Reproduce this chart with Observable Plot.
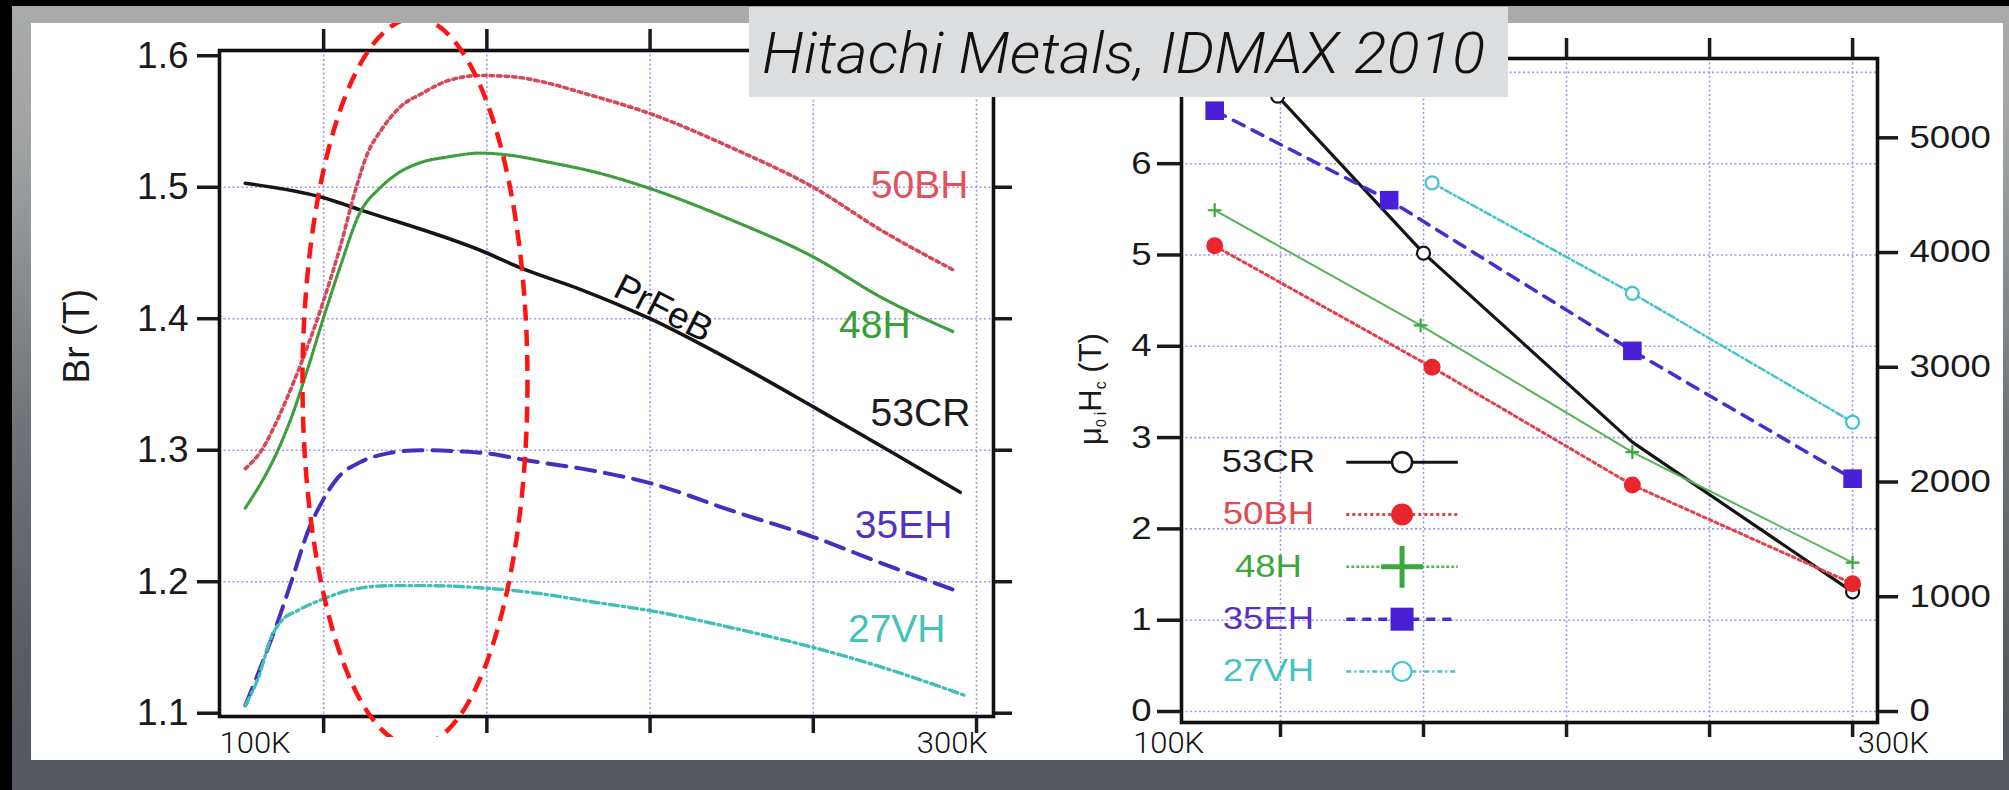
<!DOCTYPE html>
<html>
<head>
<meta charset="utf-8">
<script src="https://cdn.jsdelivr.net/npm/d3@7"></script>
<script src="https://cdn.jsdelivr.net/npm/@observablehq/plot@0.6"></script>
<style>
  html, body { margin:0; padding:0; width:2009px; height:790px; overflow:hidden; background:#000; }
  #frame { position:absolute; left:12px; top:6px; width:1997px; height:784px;
    background: linear-gradient(to bottom, #a9abaa 0px, #a3a5a5 120px, #707478 420px, #595d62 650px, #54585e 754px, #54585e 784px); }
  #panel { position:absolute; left:31px; top:23px; width:1972px; height:737px; background:#fff; overflow:hidden; }
  #panel svg { position:absolute; max-width:none; }
  #title { position:absolute; left:749px; top:7px; width:759px; height:90px; background:#dcdddf; }
  #title svg { position:absolute; left:0; top:0; }
</style>
</head>
<body>
<div id="frame"></div>
<div id="panel"></div>
<div id="title"><svg width="759" height="90"><text id="titleText" x="13" y="66" font-family="Roboto, 'Open Sans', 'Liberation Sans', sans-serif" font-size="57" font-style="italic" font-weight="300" fill="#111">Hitachi Metals, IDMAX 2010</text></svg></div>
<script>
// ---------------- data ----------------
const series = ["53CR", "50BH", "48H", "35EH", "27VH"];
const tempGridK = [100, 150, 200, 250, 300];
const brTicks = [1.1, 1.2, 1.3, 1.4, 1.5, 1.6];
const hcTicksT = [0, 1, 2, 3, 4, 5, 6, 7];
const hcTickLabels = ["0", "1", "2", "3", "4", "5", "6", ""];
const hcTicksKAm = [0, 1000, 2000, 3000, 4000, 5000];
const KAM_PER_T = 795.7747;
const endLabels = ["100K", "300K"];

// Left chart: Br (T) vs temperature (K)
const br53CR = [[76,1.503],[100,1.492],[111,1.483],[150,1.450],[160,1.439],[179,1.422],[200,1.400],[225,1.368],[250,1.333],[273,1.300],[295,1.268]];
const br50BH = [[76,1.286],[81,1.300],[86,1.324],[91,1.353],[100,1.414],[105,1.454],[110,1.500],[113.5,1.526],[117.5,1.543],[123,1.560],[130.6,1.572],[138,1.581],[148,1.585],[158,1.584],[169,1.579],[179,1.572],[200,1.556],[225,1.530],[250,1.500],[271,1.467],[293,1.437]];
const br48H  = [[76,1.256],[86,1.300],[90,1.324],[95,1.361],[100,1.401],[105,1.439],[111,1.480],[117.5,1.500],[123,1.511],[130,1.519],[138,1.523],[148,1.526],[158,1.524],[169,1.519],[184,1.511],[200,1.499],[225,1.475],[250,1.447],[271,1.416],[293,1.390]];
const br35EH = [[76,1.106],[80.7,1.135],[86,1.170],[90.5,1.203],[95,1.237],[100,1.263],[104.3,1.279],[111.3,1.291],[119.6,1.2976],[129.7,1.300],[142.9,1.299],[150,1.2976],[163,1.292],[179,1.286],[200,1.275],[225,1.254],[250,1.234],[271,1.214],[295,1.192]];
const br27VH = [[76,1.106],[80,1.127],[84,1.158],[87,1.170],[92,1.178],[100,1.187],[107,1.193],[120,1.197],[133,1.197],[150,1.195],[163,1.192],[184,1.184],[200,1.178],[225,1.165],[250,1.150],[271,1.135],[297,1.113]];

// Right chart: mu0 iHc (T) vs temperature (K)
const hc53CR = [[99,6.74],[150,5.02],[223,2.95],[300,1.31]];
const hc50BH = [[77,5.10],[153,3.77],[223,2.48],[300,1.40]];
const hc48H  = [[77,5.49],[149,4.23],[223,2.84],[300,1.63]];
const hc35EH = [[77,6.58],[138,5.60],[223,3.95],[300,2.55]];
const hc27VH = [[153,5.79],[223,4.58],[300,3.17]];
// points whose marker is not visible in the picture (hidden under another marker)
const hiddenMarkers = {"53CR": [2]};

const brBySeries = {"53CR": br53CR, "50BH": br50BH, "48H": br48H, "35EH": br35EH, "27VH": br27VH};
const hcBySeries = {"53CR": hc53CR, "50BH": hc50BH, "48H": hc48H, "35EH": hc35EH, "27VH": hc27VH};

// ---------------- layout / styles ----------------
const FONT = "'Liberation Sans', Arial, Helvetica, sans-serif";
const LIGHT = "Roboto, 'Open Sans', Lato, sans-serif";
const gridOpts = {stroke: "#9f97ef", strokeOpacity: 1, strokeWidth: 1.6, strokeDasharray: "2,2.5"};

const styleL = {
  "53CR": {stroke:"#151515", sw:3.6, dash:null,        label:"#1c1c1c"},
  "50BH": {stroke:"#d4485a", sw:3.6, dash:"3.5,4",     label:"#e0535b"},
  "48H":  {stroke:"#3e9e3e", sw:3.2, dash:"2.2,2",     label:"#36a036"},
  "35EH": {stroke:"#4a2dbf", sw:4.0, dash:"19,10",     label:"#5333bd"},
  "27VH": {stroke:"#3fbfb7", sw:3.4, dash:"9,4,2.5,4", label:"#43c3b8"}
};
// label anchors (end of text, baseline) in data units
const brLabelPos = {"50BH":[297.5,1.4922], "48H":[279.8,1.3857], "53CR":[298.1,1.3188], "35EH":[292.6,1.2329], "27VH":[290.5,1.1538]};
const prfebPos = [204.1, 1.4078];
const endLabelPosL = [[79.0, 1.0694], [292.6, 1.0694]];
const ellipseC = [128.14, 1.3515], ellipseR = [34.46, 0.2768], ellipseClipBr = 1.0816;

const styleR = {
  "53CR": {stroke:"#151515", sw:3.2, dash:null,      mark:"#151515", kind:"open",   r:6.5,  msw:2.2, lr:10,   lmsw:2.5, ldash:null,  label:"#1c1c1c"},
  "50BH": {stroke:"#e0424c", sw:3.0, dash:"3,3.5",   mark:"#e8262c", kind:"fill",   r:8.5,  msw:0,   lr:11,   lmsw:0,   ldash:"3,3", label:"#e04a50"},
  "48H":  {stroke:"#55b555", sw:2.0, dash:null,      mark:"#3aa83a", kind:"plus",   r:4.5,  msw:2.2, lr:13.5, lmsw:5,   ldash:"3,2", label:"#3aa83a"},
  "35EH": {stroke:"#4b2bcf", sw:3.5, dash:"12,9",    mark:"#4a1fd8", kind:"square", r:10.5, msw:0,   lr:13,   lmsw:0,   ldash:"9,7", label:"#5a2ec0"},
  "27VH": {stroke:"#42c4cc", sw:2.5, dash:"7,3,2,3", mark:"#42c4cc", kind:"open",   r:6.5,  msw:2.2, lr:9.5,  lmsw:2.2, ldash:"5,3,2,3", label:"#44c4c0"}
};
const legendX = 95.8, legendLine = [123, 162], legendMarkX = 142.5;
const legendTopT = 2.73, legendStepT = 0.573;
const endLabelPosR = [[60.9, -0.46], [314.2, -0.46]];

function lineOpts(st, extra) {
  const o = {x: d => d[0], y: d => d[1], stroke: st.stroke, strokeWidth: st.sw, ...extra};
  if (st.dash) o.strokeDasharray = st.dash;
  return o;
}
function dotOpts(st, r, sw) {
  if (st.kind === "plus") return {symbol: "plus", r, stroke: st.mark, fill: "none", strokeWidth: sw};
  if (st.kind === "open") return {symbol: "circle", r, stroke: st.mark, fill: "white", strokeWidth: sw};
  return {symbol: st.kind === "square" ? "square" : "circle", r, fill: st.mark, stroke: "none"};
}

const panel = document.getElementById("panel");

// ---------------- left chart ----------------
const marksL = [
  Plot.gridX(tempGridK, gridOpts),
  Plot.gridY([1.2, 1.3, 1.4, 1.5], gridOpts)
];
for (const s of series) marksL.push(Plot.line(brBySeries[s], lineOpts(styleL[s], {curve: "monotone-x"})));
for (const s of series) {
  marksL.push(Plot.text([s], {x: () => brLabelPos[s][0], y: () => brLabelPos[s][1], text: d => d,
    fill: styleL[s].label, fontSize: 39, textAnchor: "end", lineAnchor: "bottom", fontFamily: FONT}));
}
marksL.push(
  Plot.text(["PrFeB"], {x: () => prfebPos[0], y: () => prfebPos[1], text: d => d, rotate: 27, fontSize: 37, fill: "#111", fontFamily: FONT}),
  Plot.axisY(brTicks, {anchor: "left", tickSize: 22, tickPadding: 9, fontSize: 37, tickFormat: d3.format(".1f"), strokeWidth: 3.5, label: null, fontFamily: FONT}),
  Plot.axisY(brTicks, {anchor: "right", tickSize: 18, tickFormat: () => "", strokeWidth: 3.5, label: null}),
  Plot.axisX(tempGridK, {anchor: "top", tickSize: 22, tickFormat: () => "", strokeWidth: 3.5, label: null}),
  Plot.axisX(tempGridK, {anchor: "bottom", tickSize: 17, tickFormat: () => "", strokeWidth: 3.5, label: null}),
  Plot.frame({stroke: "#111", strokeWidth: 3.6}),
  Plot.text(["Br (T)"], {frameAnchor: "left", dx: -142, rotate: -90, text: d => d, fontSize: 37, fill: "#1a1a1a", fontFamily: FONT}),
  Plot.text(endLabels, {x: (d, i) => endLabelPosL[i][0], y: (d, i) => endLabelPosL[i][1], text: d => d,
    fontSize: 30, fontWeight: 300, fontFamily: LIGHT, lineAnchor: "bottom", fill: "#111"})
);

const left = Plot.plot({
  width: 1010, height: 790,
  marginLeft: 219, marginRight: 17, marginTop: 50, marginBottom: 74,
  x: {domain: [68.1, 305.2]},
  y: {domain: [1.0975, 1.604]},
  style: {background: "transparent", fontFamily: FONT, color: "#1a1a1a", overflow: "visible", maxWidth: "none"},
  marks: marksL
});
left.style.left = "-31px"; left.style.top = "-23px";
panel.appendChild(left);

// ellipse annotation
{
  const xs = left.scale("x"), ys = left.scale("y");
  const cx = xs.apply(ellipseC[0]), cy = ys.apply(ellipseC[1]);
  const rx = xs.apply(ellipseC[0] + ellipseR[0]) - cx;
  const ry = ys.apply(ellipseC[1] - ellipseR[1]) - cy;
  const clipY = ys.apply(ellipseClipBr);
  const svg = d3.select(left);
  svg.append("defs").append("clipPath").attr("id", "ellClip")
    .append("rect").attr("x", 0).attr("y", 0).attr("width", 1010).attr("height", clipY);
  svg.append("ellipse").attr("cx", cx).attr("cy", cy).attr("rx", rx).attr("ry", ry)
    .attr("fill", "none").attr("stroke", "#ff1414").attr("stroke-width", 4.5)
    .attr("stroke-dasharray", "16,9").attr("clip-path", "url(#ellClip)");
}
left.querySelectorAll("text").forEach(t => {
  if (endLabels.includes(t.textContent)) { t.setAttribute("textLength", 71); t.setAttribute("lengthAdjust", "spacingAndGlyphs"); }
});

// ---------------- right chart ----------------
const marksR = [
  Plot.gridX(tempGridK, gridOpts),
  Plot.gridY(hcTicksT, gridOpts)
];
for (const s of series) marksR.push(Plot.line(hcBySeries[s], lineOpts(styleR[s], {})));
for (const s of series) {
  const hide = hiddenMarkers[s] || [];
  marksR.push(Plot.dot(hcBySeries[s].filter((d, i) => !hide.includes(i)),
    {x: d => d[0], y: d => d[1], ...dotOpts(styleR[s], styleR[s].r, styleR[s].msw)}));
}
series.forEach((s, i) => {
  const st = styleR[s];
  const v = legendTopT - i * legendStepT;
  const lo = {x1: () => legendLine[0], x2: () => legendLine[1], y1: () => v, y2: () => v, stroke: st.stroke, strokeWidth: Math.max(st.sw, 2.5)};
  if (st.ldash) lo.strokeDasharray = st.ldash;
  marksR.push(Plot.link([s], lo));
  marksR.push(Plot.dot([s], {x: () => legendMarkX, y: () => v, ...dotOpts(st, st.lr, st.lmsw)}));
  marksR.push(Plot.text([s], {x: () => legendX, y: () => v, text: d => d, fill: st.label, fontSize: 31, fontFamily: FONT}));
});
marksR.push(
  Plot.axisY(hcTicksT, {anchor: "left", tickSize: 24, tickPadding: 6, fontSize: 31, strokeWidth: 3.5, label: null, fontFamily: FONT,
    tickFormat: (d, i) => hcTickLabels[hcTicksT.indexOf(d)]}),
  Plot.axisY(hcTicksKAm.map(d => d / KAM_PER_T), {anchor: "right", tickSize: 20, tickPadding: 12, fontSize: 31, strokeWidth: 3.5, label: null, fontFamily: FONT,
    tickFormat: d => String(Math.round(d * KAM_PER_T))}),
  Plot.axisX(tempGridK, {anchor: "top", tickSize: 21, tickFormat: () => "", strokeWidth: 3.5, label: null}),
  Plot.axisX(tempGridK, {anchor: "bottom", tickSize: 15, tickFormat: () => "", strokeWidth: 3.5, label: null}),
  Plot.frame({stroke: "#111", strokeWidth: 3.6}),
  Plot.text(endLabels, {x: (d, i) => endLabelPosR[i][0], y: (d, i) => endLabelPosR[i][1], text: d => d,
    fontSize: 30, fontWeight: 300, fontFamily: LIGHT, lineAnchor: "bottom", fill: "#111"})
);

const right = Plot.plot({
  width: 1009, height: 790,
  marginLeft: 181, marginRight: 132, marginTop: 58, marginBottom: 68,
  x: {domain: [65.4, 308.7]},
  y: {domain: [-0.1205, 7.152]},
  style: {background: "transparent", fontFamily: FONT, color: "#1a1a1a", overflow: "visible", maxWidth: "none"},
  marks: marksR
});
right.style.left = "969px"; right.style.top = "-23px";
panel.appendChild(right);

// the right-hand figure is stretched horizontally on the slide
right.querySelectorAll("text").forEach(t => {
  const len = t.getComputedTextLength();
  if (!len) return;
  const target = endLabels.includes(t.textContent) ? 71 : len * 1.18;
  t.setAttribute("textLength", target);
  t.setAttribute("lengthAdjust", "spacingAndGlyphs");
});

// right y-axis label  μ0 iHc (T)
{
  const lab = d3.select(right).append("text")
    .attr("transform", "translate(101,389) rotate(-90)")
    .attr("text-anchor", "middle").attr("font-family", FONT).attr("font-size", 31).attr("fill", "#1a1a1a");
  lab.append("tspan").text("μ");
  lab.append("tspan").attr("font-size", 14).attr("dy", 5).text("0");
  lab.append("tspan").attr("font-size", 16).attr("dx", 4).text("i");
  lab.append("tspan").attr("dy", -5).text("H");
  lab.append("tspan").attr("font-size", 16).attr("dy", 5).text("c");
  lab.append("tspan").attr("dy", -5).text(" (T)");
}

// title fitted to its width on the slide
{
  const tt = document.getElementById("titleText");
  tt.setAttribute("textLength", 723);
  tt.setAttribute("lengthAdjust", "spacingAndGlyphs");
}
</script>
</body>
</html>
